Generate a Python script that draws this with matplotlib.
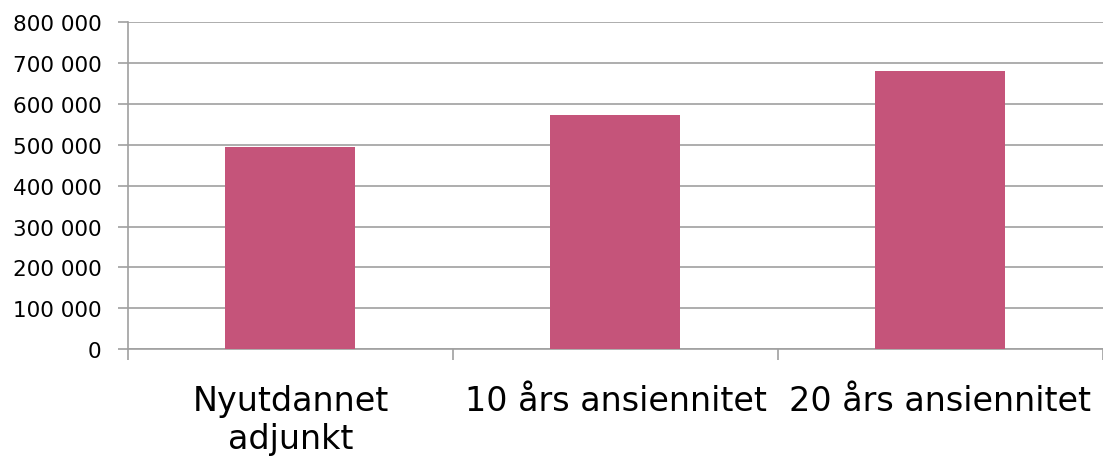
import matplotlib
matplotlib.use("Agg")
import matplotlib.pyplot as plt
from matplotlib.ticker import FuncFormatter, FixedLocator

kategorier = ["Nyutdannet\nadjunkt", "10 års ansiennitet", "20 års ansiennitet"]
lonn = [495000, 573000, 682000]
y_ticks = [0, 100000, 200000, 300000, 400000, 500000, 600000, 700000, 800000]

plt.rcParams['font.family'] = ['DejaVu Sans']

fig = plt.figure(figsize=(11.03, 4.6), dpi=100)
ax = fig.add_axes([0.116, 0.239, 0.884, 0.71])

x = list(range(len(kategorier)))
ax.bar(x, lonn, width=0.4, color='#C5547A', zorder=3)

grid_farge = '#A0A0A0'
ax.set_ylim(0, 800000)
ax.set_xlim(-0.5, len(kategorier) - 0.5)
ax.set_yticks(y_ticks)
ax.yaxis.set_major_formatter(FuncFormatter(lambda v, p: f"{int(v):,}".replace(",", " ")))
ax.yaxis.grid(True, color=grid_farge, linewidth=1.2, zorder=0)

ax.set_xticks(x)
ax.set_xticklabels(kategorier, fontsize=24, linespacing=1.2)
ax.xaxis.set_minor_locator(FixedLocator([i - 0.5 for i in range(len(kategorier) + 1)]))
ax.tick_params(axis='x', which='major', length=0, pad=25)
ax.tick_params(axis='x', which='minor', length=8, width=1.2, color=grid_farge)
ax.tick_params(axis='y', length=7, width=1.2, color=grid_farge, labelsize=15.5, pad=12)

for s in ['top', 'right']:
    ax.spines[s].set_visible(False)
for s in ['left', 'bottom']:
    ax.spines[s].set_color(grid_farge)
    ax.spines[s].set_linewidth(1.2)

fig.savefig("out.png", dpi=100)
